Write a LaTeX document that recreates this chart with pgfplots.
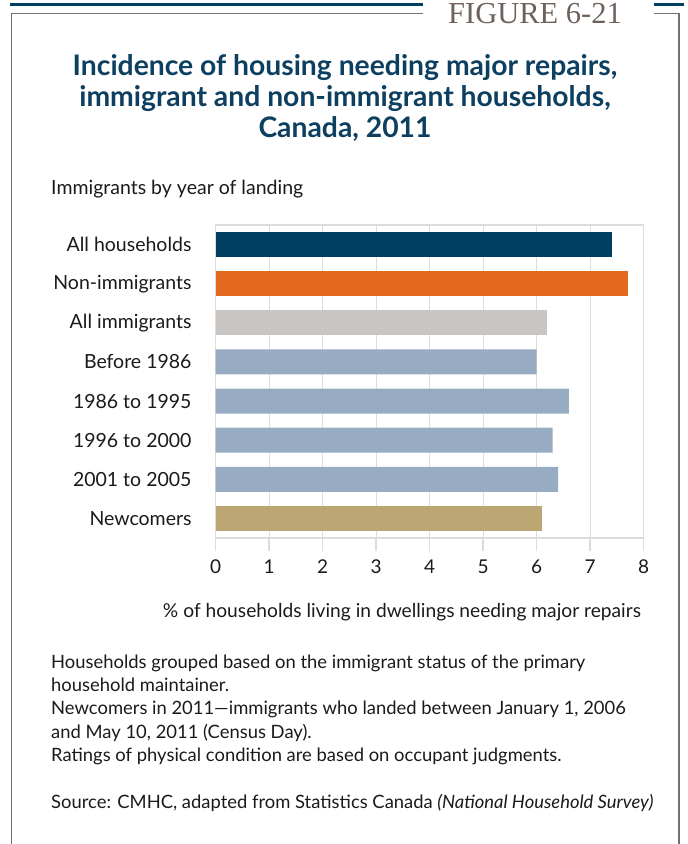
\documentclass[border=0pt]{standalone}
\usepackage{fontspec}
\setmainfont{Lato}
\newfontfamily\serifFig{Liberation Serif}
\usepackage{pgfplots}
\pgfplotsset{compat=1.18}
\definecolor{navy}{HTML}{003F62}
\definecolor{orng}{HTML}{E3691F}
\definecolor{lgray}{HTML}{C9C5C2}
\definecolor{blueg}{HTML}{97ACC3}
\definecolor{tan}{HTML}{BCA774}
\definecolor{gridg}{HTML}{DDDDDD}
\definecolor{titleblue}{HTML}{0D3F60}
\definecolor{framegray}{HTML}{7A6E6A}
\definecolor{figtext}{HTML}{6E615C}
\definecolor{txt}{HTML}{1A1A1A}
\begin{document}
\begin{tikzpicture}
\path[use as bounding box] (0pt,0pt) rectangle (688pt,-844pt);
% frame
\draw[navy, line width=3pt] (10pt,-4pt) -- (423pt,-4pt);
\draw[navy, line width=3pt] (654pt,-4pt) -- (684pt,-4pt);
\draw[framegray, line width=1.5pt] (11.7pt,-844pt) -- (11.7pt,-13.5pt) -- (423pt,-13.5pt);
\draw[framegray, line width=1.5pt] (654pt,-13.5pt) -- (679pt,-13.5pt) -- (679pt,-844pt);
\node[anchor=base west, inner sep=0pt, text=figtext, font=\serifFig\fontsize{30.5}{31}\selectfont] at (448pt,-23pt) {FIGURE 6-21};
% title
\begin{scope}[every node/.style={anchor=base, inner sep=0pt, text=titleblue, font=\bfseries\fontsize{28.3}{30}\selectfont}]
\node at (345pt,-75pt) {Incidence of housing needing major repairs,};
\node at (345pt,-106pt) {immigrant and non-immigrant households,};
\node at (345pt,-137pt) {Canada, 2011};
\end{scope}
\node[anchor=base west, inner sep=0pt, text=txt, font=\fontsize{19.5}{21}\selectfont] at (51pt,-194pt) {Immigrants by year of landing};
\begin{axis}[
  at={(215.7pt,-538pt)}, anchor=south west,
  scale only axis, width=428pt, height=313pt,
  xmin=0, xmax=8, ymin=-0.5, ymax=7.5,
  axis line style={draw=gridg, line width=1.5pt},
  xmajorgrids, grid style={draw=gridg, line width=1.2pt},
  xtick={0,...,8}, tick align=outside, major tick length=13pt,
  xtick pos=bottom, ytick pos=left,
  tick style={draw=gridg, line width=1.5pt},
  ytick={0,...,7},
  yticklabels={Newcomers,2001 to 2005,1996 to 2000,1986 to 1995,Before 1986,All immigrants,Non-immigrants,All households},
  ytick style={draw=none},
  extra y ticks={-0.5,0.5,...,7.5},
  extra y tick labels={},
  extra y tick style={tick style={draw=gridg, line width=1.5pt}},
  yticklabel style={inner sep=0pt, xshift=-11pt, text=txt, font=\fontsize{19.5}{21}\selectfont},
  xticklabel style={text=txt, yshift=-5pt, font=\fontsize{19}{21}\selectfont},
  /pgf/number format/assume math mode=true,
]
\addplot[xbar, bar width=25pt, bar shift=0pt, fill=navy, draw=none] coordinates {(7.4,7)};
\addplot[xbar, bar width=25pt, bar shift=0pt, fill=orng, draw=none] coordinates {(7.7,6)};
\addplot[xbar, bar width=25pt, bar shift=0pt, fill=lgray, draw=none] coordinates {(6.2,5)};
\addplot[xbar, bar width=25pt, bar shift=0pt, fill=blueg, draw=none] coordinates {(6.0,4) (6.6,3) (6.3,2) (6.4,1)};
\addplot[xbar, bar width=25pt, bar shift=0pt, fill=tan, draw=none] coordinates {(6.1,0)};
\end{axis}
\node[anchor=base, inner sep=0pt, text=txt, font=\fontsize{19.2}{21}\selectfont] at (402pt,-617pt) {\% of households living in dwellings needing major repairs};
\begin{scope}[every node/.style={anchor=base west, inner sep=0pt, text=txt, font=\fontsize{18.4}{20}\selectfont}]
\node at (51pt,-668pt) {Households grouped based on the immigrant status of the primary};
\node at (51pt,-691pt) {household maintainer.};
\node at (51pt,-714.5pt) {Newcomers in 2011---immigrants who landed between January 1, 2006};
\node at (51pt,-738pt) {and May 10, 2011 (Census Day).};
\node at (51pt,-761pt) {Ratings of physical condition are based on occupant judgments.};
\node at (51pt,-808pt) {Source: CMHC, adapted from Statistics Canada \textit{(National Household Survey)}};
\end{scope}
\end{tikzpicture}
\end{document}
